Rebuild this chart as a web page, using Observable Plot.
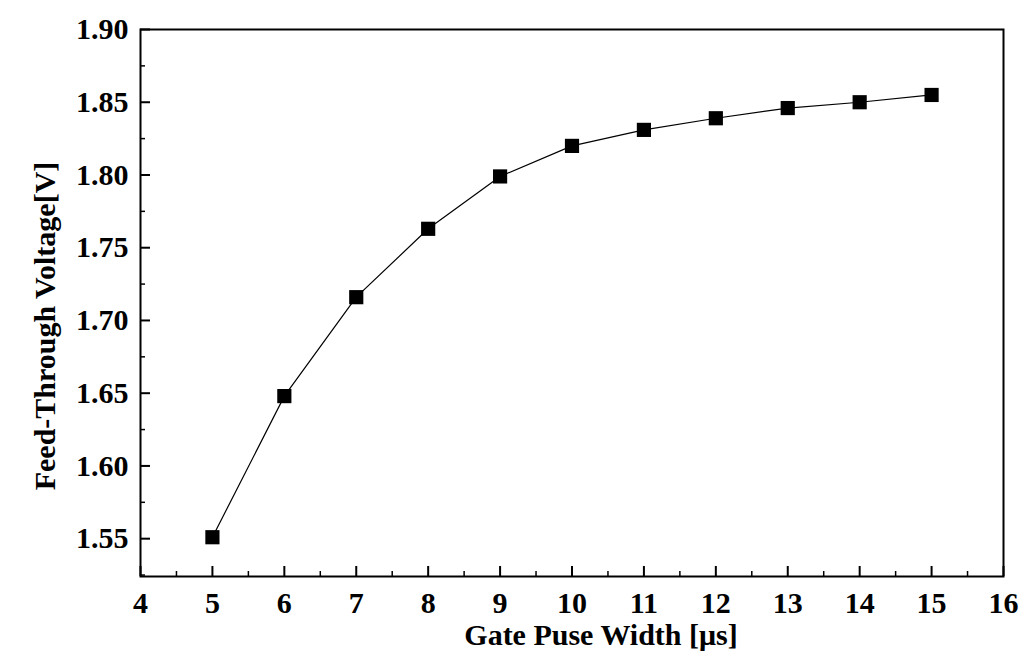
<!DOCTYPE html>
<html><head><meta charset="utf-8">
<script src="https://cdn.jsdelivr.net/npm/d3@7"></script>
<script src="https://cdn.jsdelivr.net/npm/@observablehq/plot@0.6"></script>
<style>
html,body{margin:0;padding:0;background:#fff;}
svg{display:block;}
</style>
</head><body>
<div id="chart"></div>
<script>
const pulseWidth = [5, 6, 7, 8, 9, 10, 11, 12, 13, 14, 15];
const feedVoltage = [1.551, 1.648, 1.716, 1.763, 1.799, 1.820, 1.831, 1.839, 1.846, 1.850, 1.855];
const xTicks = [4, 5, 6, 7, 8, 9, 10, 11, 12, 13, 14, 15, 16];
const xMinor = [4.5, 5.5, 6.5, 7.5, 8.5, 9.5, 10.5, 11.5, 12.5, 13.5, 14.5, 15.5];
const yTicks = [1.55, 1.60, 1.65, 1.70, 1.75, 1.80, 1.85, 1.90];
const yMinor = [1.525, 1.575, 1.625, 1.675, 1.725, 1.775, 1.825, 1.875];
const xLabel = "Gate Puse Width [μs]";
const yLabel = "Feed-Through Voltage[V]";

const data = pulseWidth.map((x, i) => ({x, y: feedVoltage[i]}));
const font = "'Liberation Serif', 'Times New Roman', serif";

const chart = Plot.plot({
  width: 1035,
  height: 664,
  marginLeft: 140,
  marginRight: 32,
  marginTop: 29,
  marginBottom: 88,
  style: {fontFamily: font, fontWeight: "bold", fontSize: "30px", color: "#000", background: "#fff"},
  x: {domain: [4, 16]},
  y: {domain: [1.524, 1.90]},
  marks: [
    Plot.frame({stroke: "#000", strokeWidth: 2}),
    // inward ticks
    Plot.axisX(xTicks, {tickSize: -10, text: null, label: null, strokeWidth: 2}),
    Plot.axisX(xMinor, {tickSize: -5, text: null, label: null, strokeWidth: 1.5}),
    Plot.axisY(yTicks, {tickSize: -10, text: null, label: null, strokeWidth: 2}),
    Plot.axisY(yMinor, {tickSize: -5, text: null, label: null, strokeWidth: 1.5}),
    // tick labels
    Plot.axisX(xTicks, {tickSize: 0, tickPadding: 15, tickFormat: d => String(d), label: null, fontSize: 30, fontWeight: "bold"}),
    Plot.axisY(yTicks, {tickSize: 0, tickPadding: 12, tickFormat: d => d.toFixed(2), label: null, fontSize: 30, fontWeight: "bold"}),
    // axis titles
    Plot.text([xLabel], {text: d => d, frameAnchor: "bottom", dx: 29, dy: 59, fontSize: 30, fontWeight: "bold", textAnchor: "middle", lineAnchor: "middle"}),
    Plot.text([yLabel], {text: d => d, frameAnchor: "left", dx: -95, dy: 23, rotate: -90, fontSize: 30, fontWeight: "bold", textAnchor: "middle", lineAnchor: "middle"}),
    Plot.line(data, {x: "x", y: "y", stroke: "#000", strokeWidth: 1.2}),
    Plot.dot(data, {x: "x", y: "y", symbol: "square", r: 8, fill: "#000", stroke: "none"})
  ]
});
document.getElementById("chart").appendChild(chart);
</script>
</body></html>
